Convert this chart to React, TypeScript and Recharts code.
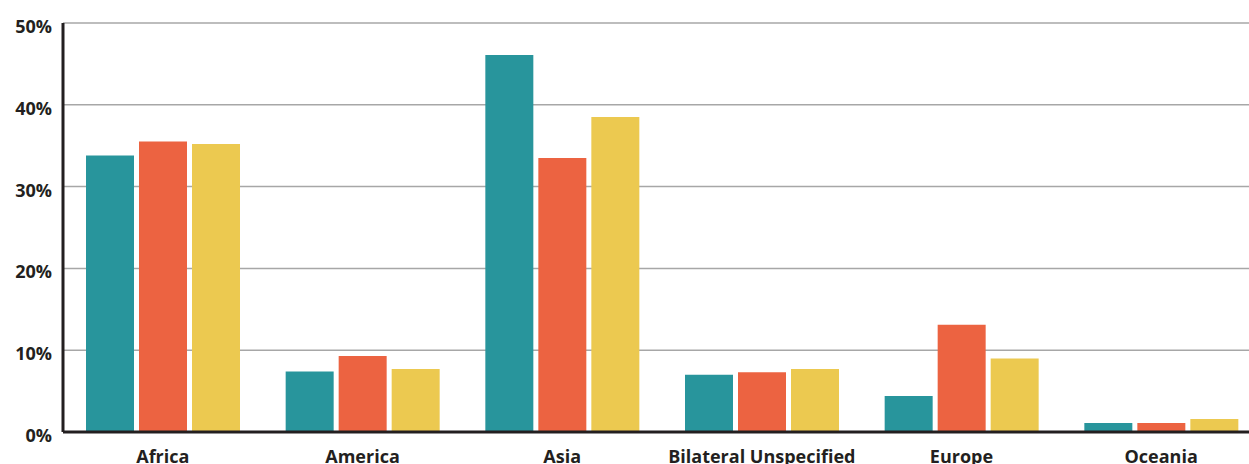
import React from 'react';
import { BarChart, Bar, XAxis, YAxis, CartesianGrid } from 'recharts';

const regions = ['Africa', 'America', 'Asia', 'Bilateral Unspecified', 'Europe', 'Oceania'];
const tealValues = [33.8, 7.4, 46.1, 7.0, 4.4, 1.1];
const orangeValues = [35.5, 9.3, 33.5, 7.3, 13.1, 1.1];
const yellowValues = [35.2, 7.7, 38.5, 7.7, 9.0, 1.6];
const percentTicks = [0, 10, 20, 30, 40, 50];

const data = regions.map((name, i) => ({
  name,
  teal: tealValues[i],
  orange: orangeValues[i],
  yellow: yellowValues[i],
}));

const INK = '#231f20';
const FONT = '"Open Sans", "Noto Sans", sans-serif';

function PercentTick({ x, y, payload }: any) {
  return (
    <text x={x} y={y} dy={10} textAnchor="end" fill={INK} fontFamily={FONT} fontWeight={700} fontSize={18}>
      {`${payload.value}%`}
    </text>
  );
}

function RegionTick({ x, y, payload }: any) {
  return (
    <text x={x} y={y} dy={29} textAnchor="middle" fill={INK} fontFamily={FONT} fontWeight={700} fontSize={18}>
      {payload.value}
    </text>
  );
}

export default function App() {
  return (
    <div
      style={{
        position: 'fixed',
        top: 0,
        left: 0,
        width: 1249,
        height: 464,
        overflow: 'hidden',
        background: '#fff',
      }}
    >
      <BarChart
        width={1270}
        height={464}
        data={data}
        barGap={5}
        margin={{ top: 23, right: 9, left: 0, bottom: 0 }}
      >
        <CartesianGrid vertical={false} stroke="#a7a7a7" strokeWidth={1.5} />
        <XAxis
          dataKey="name"
          height={32}
          tickLine={false}
          tickSize={0}
          axisLine={{ stroke: INK, strokeWidth: 3 }}
          tick={<RegionTick />}
          interval={0}
        />
        <YAxis
          width={63}
          domain={[0, 50]}
          ticks={percentTicks}
          tickLine={false}
          tickSize={0}
          tickMargin={11}
          axisLine={{ stroke: INK, strokeWidth: 3 }}
          tick={<PercentTick />}
        />
        <Bar dataKey="teal" fill="#28959c" barSize={48} isAnimationActive={false} />
        <Bar dataKey="orange" fill="#ec6341" barSize={48} isAnimationActive={false} />
        <Bar dataKey="yellow" fill="#ecc950" barSize={48} isAnimationActive={false} />
      </BarChart>
    </div>
  );
}
